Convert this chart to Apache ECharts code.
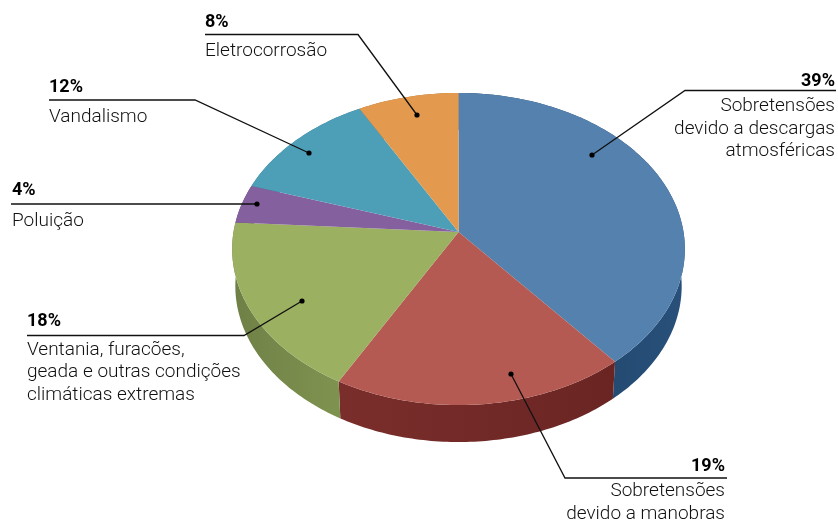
<!DOCTYPE html>
<html><head><meta charset="utf-8">
<style>html,body{margin:0;padding:0;background:#fff}#c{width:838px;height:523px}</style>
<script src="https://cdn.jsdelivr.net/npm/echarts@6/dist/echarts.min.js"></script>
</head><body><div id="c"></div>
<script>
// DATA (clockwise from the top of the pie)
const categories = ['Sobretensões devido a descargas atmosféricas','Sobretensões devido a manobras','Ventania, furacões, geada e outras condições climáticas extremas','Poluição','Vandalismo','Eletrocorrosão'];
const values = [39, 19, 18, 4, 12, 8];
const labelLines = [
  ['Sobretensões','devido a descargas','atmosféricas'],
  ['Sobretensões','devido a manobras'],
  ['Ventania, furacões,','geada e outras condições','climáticas extremas'],
  ['Poluição'],
  ['Vandalismo'],
  ['Eletrocorrosão']
];
// STYLE
const topColors = ['#5481ae','#b55a52','#9bb061','#85609f','#4d9fb8','#e49a4e'];
const sideColors = [['#28507a','#1c3f60'],['#6a2523','#7a2e2b'],['#7f9350','#6f8046'],['#5f4474','#5f4474'],['#35707f','#35707f'],['#a56f38','#a56f38']];
// LAYOUT: perspective disc
const P = {cx:458.5, apexY:232, k:225, b:-128.9, c:0.109, depth:37, shrink:0.986};
function proj(frac, r){
  const t = frac*2*Math.PI, u = r*Math.sin(t), v = r*Math.cos(t), w = 1+P.c*v;
  return [P.cx+P.k*u/w, (P.apexY+P.b*v)/w];
}
function lower(p){ return [P.cx+(p[0]-P.cx)*P.shrink, p[1]+P.depth]; }
const total = values.reduce((a,b)=>a+b,0);
const starts = []; values.reduce((acc,v,i)=>{starts[i]=acc; return acc+v;},0);
function rim(i){
  const pts=[], n=Math.max(8,Math.ceil(values[i]*4));
  for(let j=0;j<=n;j++){ pts.push(proj((starts[i]+values[i]*j/n)/total,1)); }
  return pts;
}
// LAYOUT: callouts (rule start/end, elbow to dot, text anchor side)
const callouts = [
  {x0:836,x1:685,y:90.5,dot:[592,155],right:true,tx:835,pctY:81,lineY:[106,129,151]},
  {x0:727,x1:565,y:478,dot:[511,374],right:true,tx:725,pctY:466,lineY:[491,514]},
  {x0:27,x1:244,y:335.5,dot:[302,301],right:false,tx:27,pctY:321,lineY:[350,372.5,395]},
  {x0:11,x1:257,y:204,dot:[257,204],right:false,tx:12,pctY:190,lineY:[221]},
  {x0:49,x1:195,y:100,dot:[309,153],right:false,tx:49,pctY:87,lineY:[117]},
  {x0:205,x1:358,y:34.5,dot:[417,115],right:false,tx:205,pctY:22,lineY:[51.5]}
];
const bodyFont = '300 19px Roboto';
const pctFont = 'bold 18px Roboto';
const ink = '#111';
const data = values.map((v,i)=>({name:categories[i],value:v}));

const chart = echarts.init(document.getElementById('c'),null,{renderer:'canvas'});
chart.setOption({
  animation:false,
  backgroundColor:'#fff',
  series:[
    {type:'custom',coordinateSystem:'none',z:1,silent:true,data,
     renderItem(params){
       const i=params.dataIndex, top=rim(i), bot=top.map(lower).reverse();
       return {type:'polygon',shape:{points:top.concat(bot)},
         style:{fill:new echarts.graphic.LinearGradient(0,0,1,0,[{offset:0,color:sideColors[i][1]},{offset:1,color:sideColors[i][0]}])}};
     }},
    {type:'custom',coordinateSystem:'none',z:2,silent:true,data,
     renderItem(params){
       const i=params.dataIndex;
       return {type:'polygon',shape:{points:[proj(0,0)].concat(rim(i))},style:{fill:topColors[i]}};
     }},
    {type:'custom',coordinateSystem:'none',z:3,silent:true,data,
     renderItem(params,api){
       const i=params.dataIndex, c=callouts[i], kids=[];
       kids.push({type:'polyline',shape:{points:[[c.x0,c.y],[c.x1,c.y],c.dot]},style:{stroke:'#111',lineWidth:1.3,fill:null}});
       kids.push({type:'circle',shape:{cx:c.dot[0],cy:c.dot[1],r:2.6},style:{fill:'#000'}});
       const align=c.right?'right':'left';
       kids.push({type:'text',style:{text:api.value(0)+'%',x:c.tx,y:c.pctY,font:pctFont,fill:'#000',textAlign:align,textVerticalAlign:'middle'}});
       labelLines[i].forEach((t,j)=>kids.push({type:'text',style:{text:t,x:c.tx,y:c.lineY[j],font:bodyFont,fill:ink,textAlign:align,textVerticalAlign:'middle'}}));
       return {type:'group',children:kids};
     }}
  ]
});
</script></body></html>
